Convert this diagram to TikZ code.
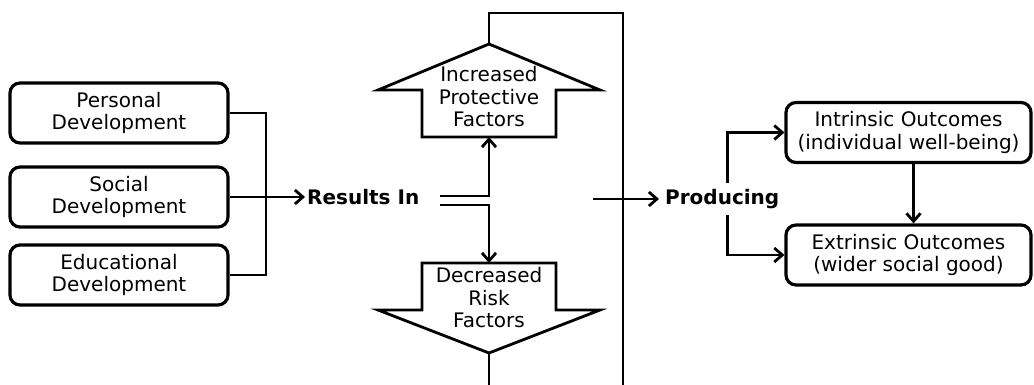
\documentclass[tikz,border=0pt]{standalone}
\usepackage{fontspec}
\setmainfont{DejaVu Sans}
\usetikzlibrary{arrows.meta}
\tikzset{
  devbox/.style={draw,line width=3.2pt,rounded corners=10pt,minimum width=218pt,minimum height=60pt,align=center,inner sep=0pt,font=\fontsize{20}{22.5}\selectfont},
  outbox/.style={devbox,minimum width=245pt},
  word/.style={font=\bfseries\fontsize{20}{24}\selectfont,inner sep=2pt},
  factor/.style={align=center,inner sep=0pt,font=\fontsize{20}{22.5}\selectfont},
  link/.style={line width=2.8pt},
  linkarrow/.style={link,-{Straight Barb[length=8pt,width=14pt]}}
}
\begin{document}
\begin{tikzpicture}[x=1pt,y=-1pt]
  \useasboundingbox(0,0)rectangle(1034,385);

  \foreach\N/\T/\Y in{personal/Personal/113,social/Social/197,educational/Educational/275}
    \node[devbox](\N)at(119,\Y){\T\\Development};
  \node[word,anchor=west](results)at(305,197){Results In};
  \coordinate(join)at(266,197);
  \draw[link](personal.east)-|(join)|-(educational.east);
  \draw[linkarrow](social.east)--(results.west);

  \coordinate(up tip)at(489,44);
  \coordinate(up base)at(489,137);
  \coordinate(down base)at(489,263);
  \coordinate(down tip)at(489,353);
  \draw[link](up base)-|(422,90)--(378,90)--(up tip)--(600,90)--(556,90)--(556,137)--cycle;
  \draw[link](down base)-|(422,310)--(378,310)--(down tip)--(600,310)--(556,310)--(556,263)--cycle;
  \node[factor](increased)at(489,97){Increased\\Protective\\Factors};
  \node[factor](decreased)at(489,298){Decreased\\Risk\\Factors};
  \draw[link](up tip)--(489,13)-|(623,385);
  \draw[link](down tip)--(489,385);

  \coordinate(fork top)at(440,196);
  \coordinate(fork bottom)at(440,205);
  \draw[linkarrow](fork top)-|(up base);
  \draw[linkarrow](fork bottom)-|(down base);

  \node[word,anchor=west,inner xsep=6pt,inner ysep=6pt](producing)at(659,199){Producing};
  \coordinate(frame out)at(593,199);
  \draw[linkarrow](frame out)--(producing.west);

  \node[outbox](intrinsic)at(908.5,132.5){Intrinsic Outcomes\\(individual well-being)};
  \node[outbox](extrinsic)at(908.5,255){Extrinsic Outcomes\\(wider social good)};
  \draw[linkarrow]([xshift=5pt]producing.north)|-(intrinsic.west);
  \draw[linkarrow]([xshift=5pt]producing.south)|-(extrinsic.west);
  \draw[linkarrow]([xshift=5pt]intrinsic.south)--([xshift=5pt]extrinsic.north);
\end{tikzpicture}
\end{document}
